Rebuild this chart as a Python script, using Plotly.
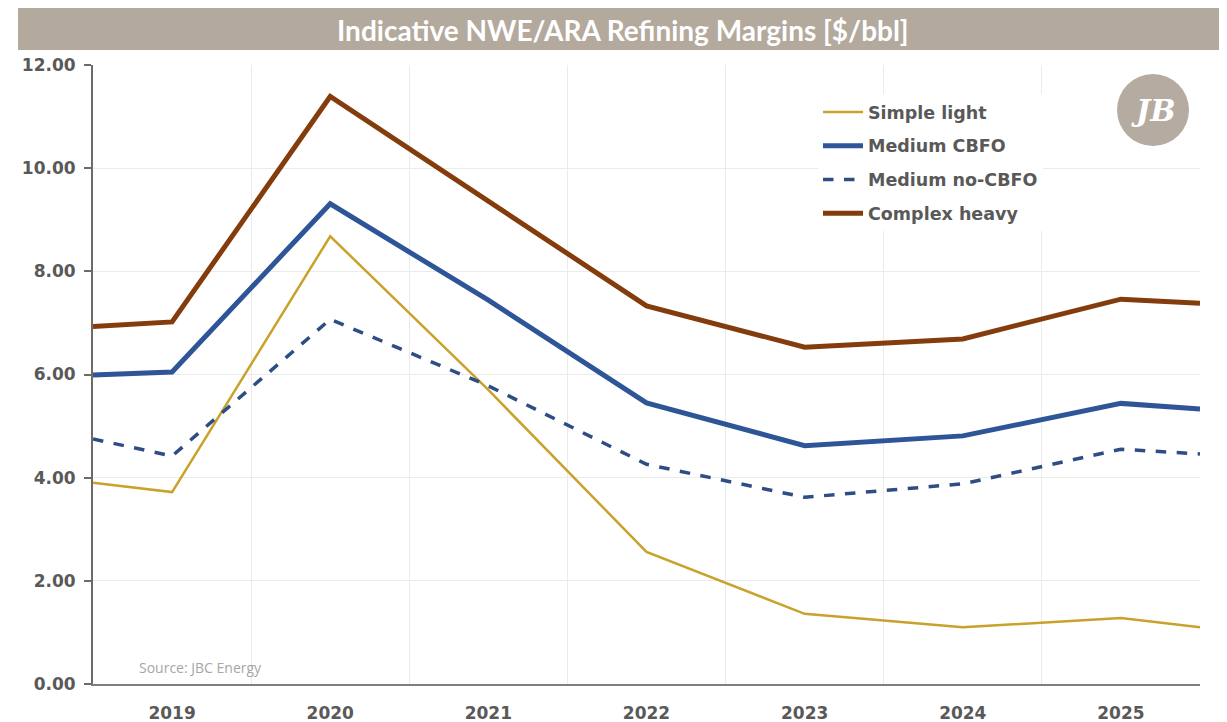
import plotly.graph_objects as go

# x positions (years); first/last are the half-year chart edges
years = [2018.5, 2019, 2020, 2021, 2022, 2023, 2024, 2025, 2025.5]
tick_years = [2019, 2020, 2021, 2022, 2023, 2024, 2025]
tick_labels = ["2019", "2020", "2021", "2022", "2023", "2024", "2025"]

simple_light = [3.90, 3.72, 8.68, 5.70, 2.56, 1.36, 1.10, 1.28, 1.10]
medium_cbfo = [5.99, 6.05, 9.31, 7.44, 5.45, 4.62, 4.81, 5.44, 5.33]
medium_no_cbfo = [4.75, 4.42, 7.07, 5.78, 4.26, 3.62, 3.88, 4.55, 4.46]
complex_heavy = [6.93, 7.02, 11.39, 9.35, 7.33, 6.53, 6.69, 7.46, 7.38]

y_ticks = [0, 2, 4, 6, 8, 10, 12]
y_tick_labels = ["0.00", "2.00", "4.00", "6.00", "8.00", "10.00", "12.00"]

OFF = 8  # page body margin
W, H = 1227 - OFF, 722 - OFF
L, R, T, B = 93 - OFF, 1200 - OFF, 65 - OFF, 684 - OFF


def px_x(p):
    return (p - OFF - L) / (R - L)


def px_y(p):
    return (B - (p - OFF)) / (B - T)


fig = go.Figure()
series = [
    ("Simple light", simple_light, "#C9A22B", 2.5, "solid"),
    ("Medium CBFO", medium_cbfo, "#2E5597", 5, "solid"),
    ("Medium no-CBFO", medium_no_cbfo, "#2F4D85", 3.5, "dash"),
    ("Complex heavy", complex_heavy, "#843C0C", 5, "solid"),
]
for i, (name, vals, color, width, dash) in enumerate(series):
    fig.add_trace(go.Scatter(
        x=years, y=vals, name=name, mode="lines",
        line=dict(color=color, width=width, dash=dash),
        legendgroup=f"g{i}",
    ))

tick_font = dict(family="DejaVu Sans", size=17, color="#595959", weight="bold")

fig.update_layout(
    width=W, height=H,
    margin=dict(l=L, r=W - R, t=T, b=H - B, pad=0, autoexpand=False),
    paper_bgcolor="white", plot_bgcolor="white",
    font=dict(family="DejaVu Sans", color="#595959"),
    showlegend=True,
    legend=dict(
        x=px_x(818), y=px_y(94), xanchor="left", yanchor="top",
        bgcolor="rgba(255,255,255,1)",
        font=dict(family="DejaVu Sans", size=17.5, color="#595959", weight="bold"),
        tracegroupgap=8, itemwidth=40,
    ),
    xaxis=dict(
        range=[2018.5, 2025.5], automargin=False,
        tickmode="array", tickvals=tick_years, ticktext=tick_labels,
        showgrid=False, zeroline=False,
        showline=True, linecolor="#7f7f7f", linewidth=2,
        ticks="", ticklabelstandoff=13,
        tickfont=tick_font,
        minor=dict(tickmode="linear", tick0=2018.5, dtick=1, showgrid=True,
                   gridcolor="#EBEBEB", gridwidth=1),
    ),
    yaxis=dict(
        range=[0, 12], automargin=False,
        tickmode="array", tickvals=y_ticks, ticktext=y_tick_labels,
        showgrid=True, gridcolor="#EBEBEB", gridwidth=1, zeroline=False,
        showline=True, linecolor="#6f6a66", linewidth=2,
        ticks="outside", ticklen=7, tickwidth=2, tickcolor="#6f6a66",
        ticklabelstandoff=5,
        tickfont=tick_font,
    ),
    shapes=[
        dict(type="rect", xref="paper", yref="paper",
             x0=px_x(18), x1=px_x(1227), y0=px_y(50), y1=px_y(8),
             fillcolor="#B3A99D", line=dict(width=0), layer="above"),
        dict(type="circle", xref="paper", yref="paper",
             x0=px_x(1117), x1=px_x(1189), y0=px_y(146), y1=px_y(74),
             fillcolor="#B5ABA0", line=dict(width=0), layer="above"),
    ],
    annotations=[
        dict(text="Indicative NWE/ARA Refining Margins [$/bbl]",
             xref="paper", yref="paper", x=px_x(623), y=px_y(30),
             xanchor="center", yanchor="middle", showarrow=False,
             font=dict(family="Lato", size=28, color="white", weight="bold")),
        dict(text="<i>JB</i>", xref="paper", yref="paper",
             x=px_x(1153), y=px_y(110), xanchor="center", yanchor="middle",
             showarrow=False,
             font=dict(family="DejaVu Serif", size=30, color="white", weight="bold")),
        dict(text="Source: JBC Energy", xref="paper", yref="paper",
             x=px_x(137), y=px_y(667), xanchor="left", yanchor="middle",
             showarrow=False,
             font=dict(family="Open Sans", size=14, color="#A6A6A6")),
    ],
)

fig.write_html("out.html")
